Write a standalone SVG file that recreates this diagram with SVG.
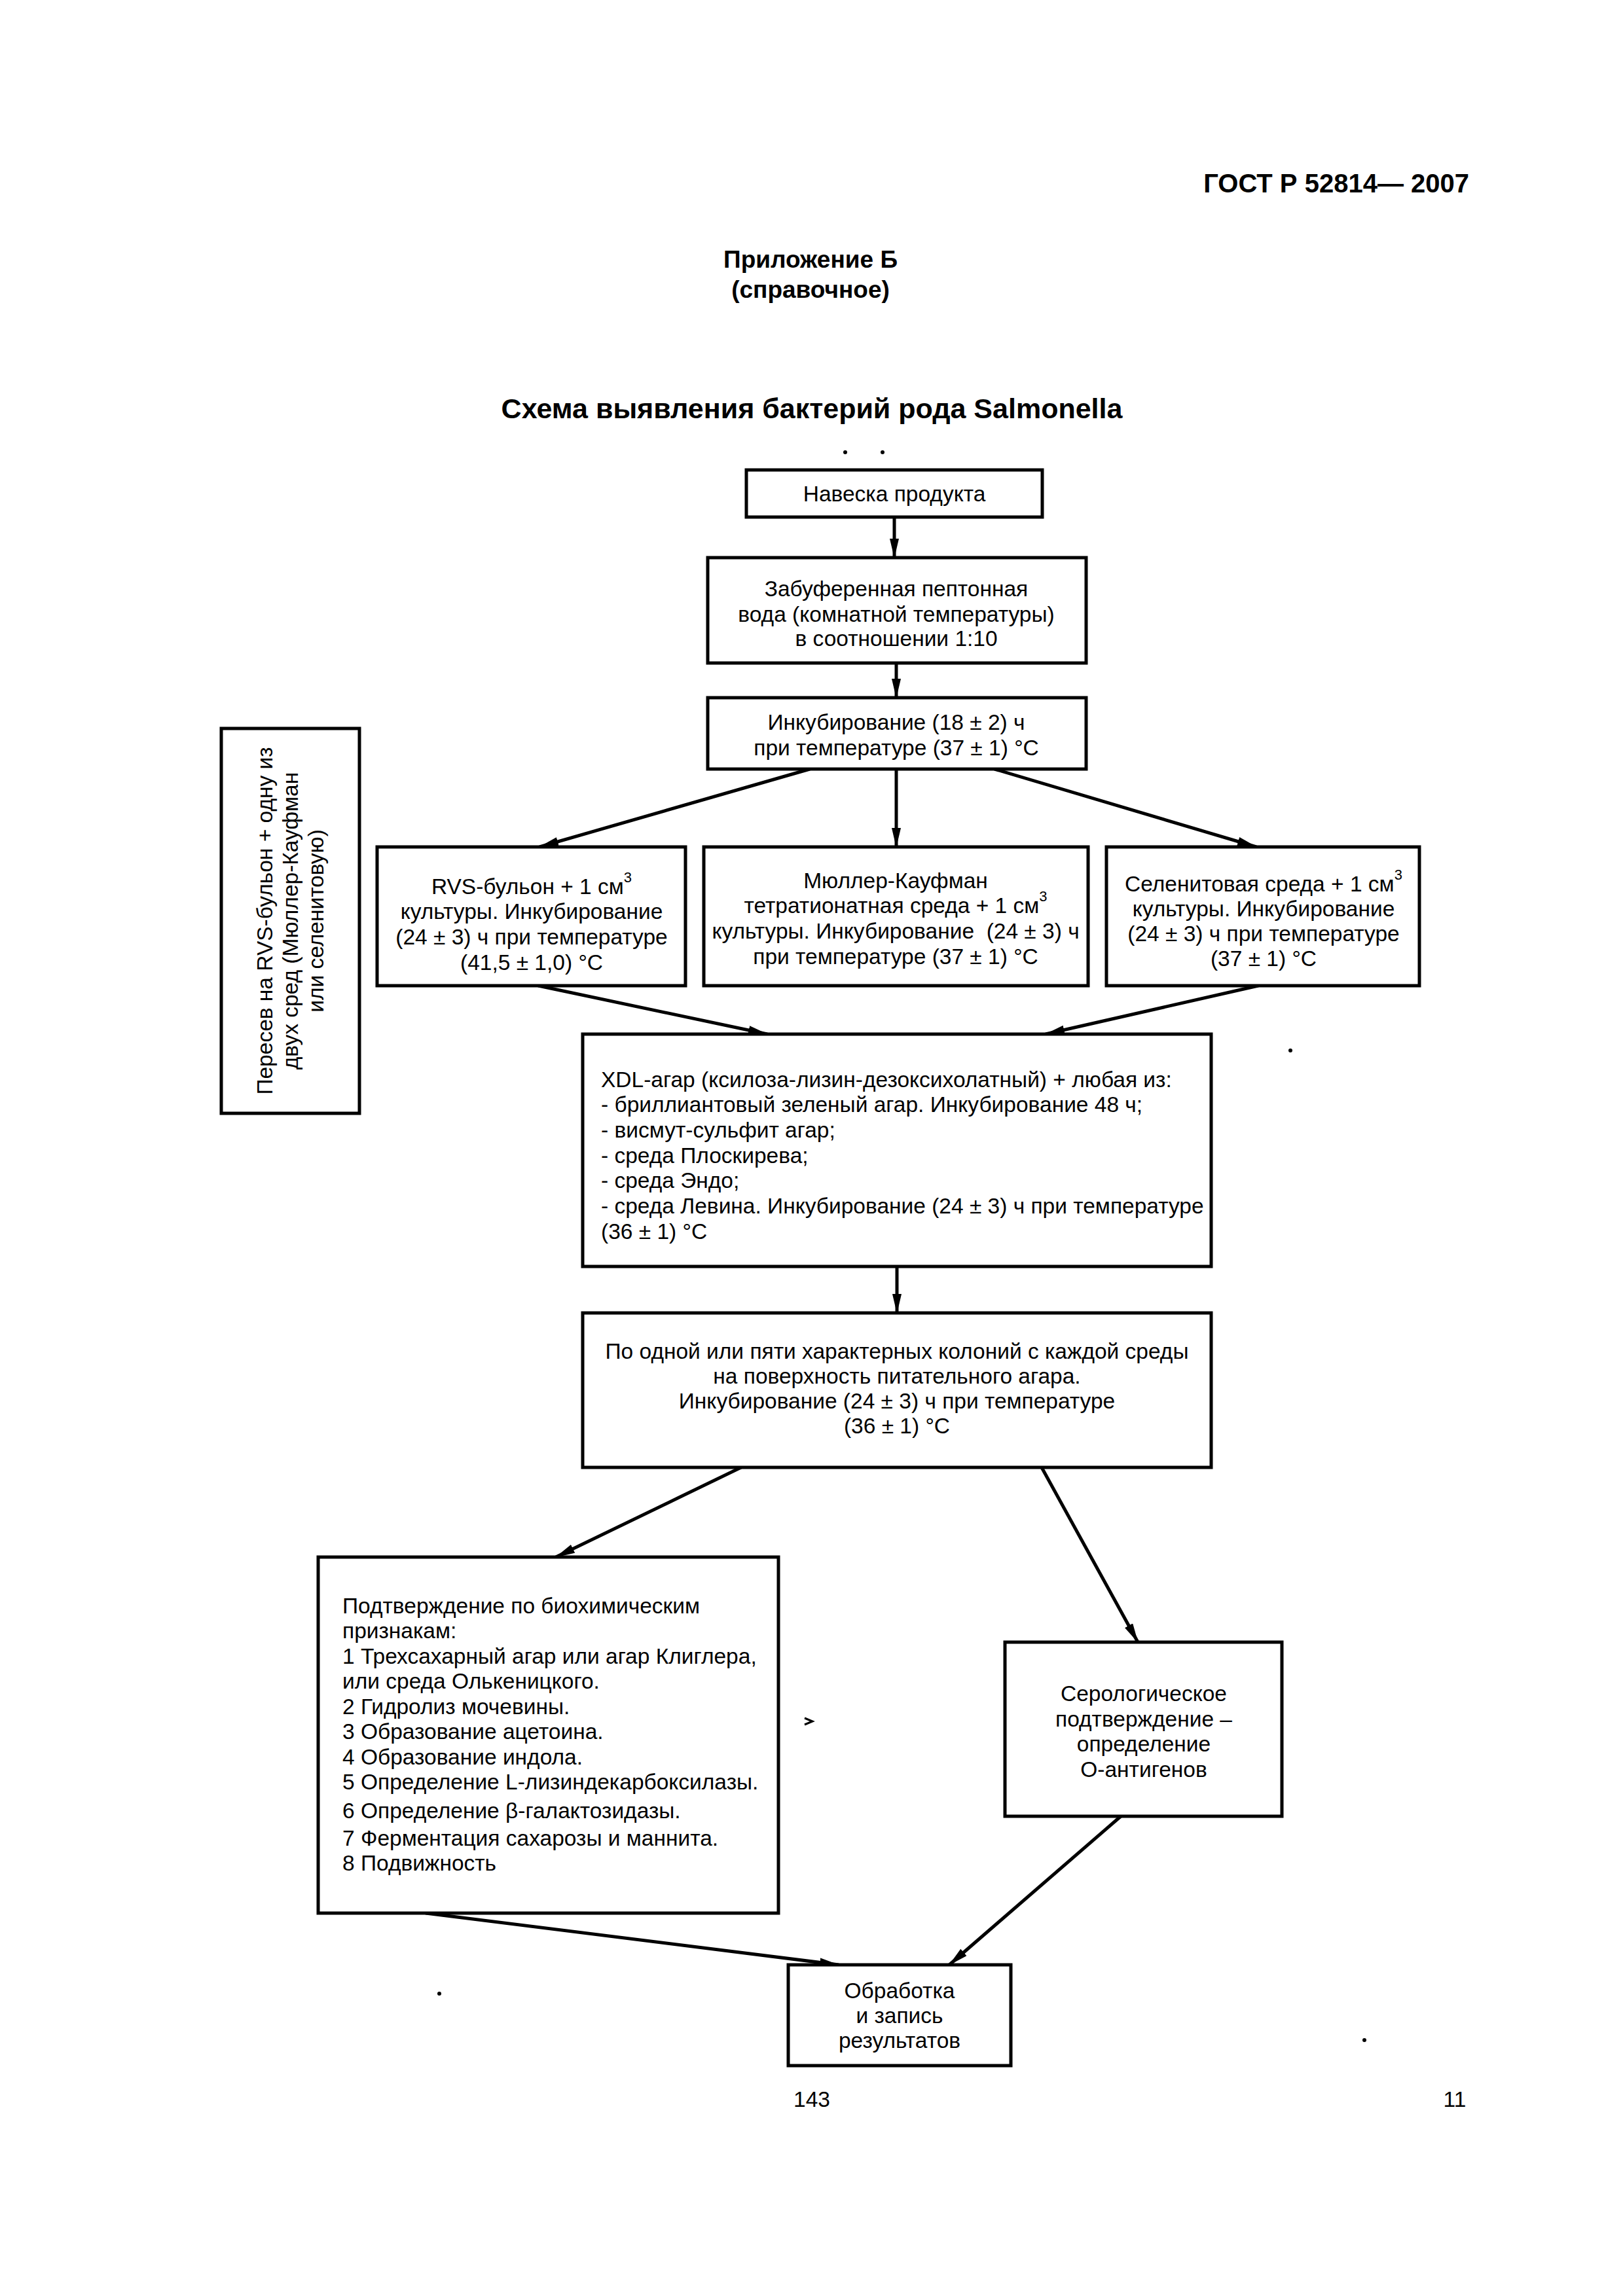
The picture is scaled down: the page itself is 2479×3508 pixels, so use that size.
<svg xmlns="http://www.w3.org/2000/svg" width="2479" height="3508" viewBox="0 0 2479 3508">
<style>
.bx{fill:#fff;stroke:#000;stroke-width:5}
.t{font-family:"Liberation Sans",Arial,sans-serif;font-size:33.5px;fill:#000;dominant-baseline:central}
.c{text-anchor:middle}
.h{font-family:"Liberation Sans",Arial,sans-serif;font-weight:bold;fill:#000}
.ln{stroke:#000;stroke-width:5;fill:none;marker-end:url(#ah)}
.sp{fill:#000}
</style>
<defs>
<marker id="ah" markerUnits="userSpaceOnUse" viewBox="0 0 30 14" refX="29" refY="7" markerWidth="30" markerHeight="14" orient="auto">
<path d="M0,0 L30,7 L0,14 z" fill="#000"/>
</marker>
</defs>
<rect width="2479" height="3508" fill="#fff"/>

<text class="h" x="2244" y="294" font-size="40" text-anchor="end">ГОСТ Р 52814— 2007</text>
<text class="h" x="1238" y="409" font-size="37" text-anchor="middle">Приложение Б</text>
<text class="h" x="1238" y="455" font-size="37" text-anchor="middle">(справочное)</text>
<text class="h" x="1240" y="639" font-size="43" text-anchor="middle">Схема выявления бактерий рода Salmonella</text>

<g id="specks">
<circle class="sp" cx="1291" cy="691" r="3"/>
<circle class="sp" cx="1348" cy="691" r="3"/>
<circle class="sp" cx="1971" cy="1605" r="3"/>
<circle class="sp" cx="671" cy="3046" r="3"/>
<circle class="sp" cx="2084" cy="3117" r="3"/>
<path d="M1229,2625 L1241,2630 L1229,2635" stroke="#000" stroke-width="3" fill="none"/>
</g>

<g id="connectors">
<line class="ln" x1="1366" y1="790" x2="1366" y2="852"/>
<line class="ln" x1="1369" y1="1013" x2="1369" y2="1066"/>
<line class="ln" x1="1237" y1="1175" x2="824" y2="1294"/>
<line class="ln" x1="1369" y1="1175" x2="1369" y2="1294"/>
<line class="ln" x1="1519" y1="1175" x2="1919" y2="1294"/>
<line class="ln" x1="822" y1="1506" x2="1172" y2="1580"/>
<line class="ln" x1="1922" y1="1506" x2="1597" y2="1580"/>
<line class="ln" x1="1370" y1="1935" x2="1370" y2="2006"/>
<line class="ln" x1="1132" y1="2242" x2="849" y2="2379"/>
<line class="ln" x1="1591" y1="2242" x2="1738" y2="2509"/>
<line class="ln" x1="650" y1="2923" x2="1281" y2="3002"/>
<line class="ln" x1="1712" y1="2775" x2="1450" y2="3002"/>
</g>

<g id="n1">
<rect class="bx" x="1140" y="718" width="452" height="72"/>
<text class="t c" x="1366" y="754">Навеска продукта</text>
</g>

<g id="n2">
<rect class="bx" x="1081" y="852" width="578" height="161"/>
<text class="t c" x="1369" y="899">Забуференная пептонная</text>
<text class="t c" x="1369" y="938">вода (комнатной температуры)</text>
<text class="t c" x="1369" y="975">в соотношении 1:10</text>
</g>

<g id="n3">
<rect class="bx" x="1081" y="1066" width="578" height="109"/>
<text class="t c" x="1369" y="1103">Инкубирование (18 ± 2) ч</text>
<text class="t c" x="1369" y="1142">при температуре (37 ± 1) °C</text>
</g>

<g id="n4">
<rect class="bx" x="338" y="1113" width="211" height="588"/>
<g transform="translate(443,1407) rotate(-90)">
<text class="t c" x="0" y="-39">Пересев на RVS-бульон + одну из</text>
<text class="t c" x="0" y="0">двух сред (Мюллер-Кауфман</text>
<text class="t c" x="0" y="39">или селенитовую)</text>
</g>
</g>

<g id="n5">
<rect class="bx" x="576" y="1294" width="471" height="212"/>
<text class="t c" x="812" y="1354">RVS-бульон + 1 см<tspan dy="-14" font-size="22">3</tspan></text>
<text class="t c" x="812" y="1392">культуры. Инкубирование</text>
<text class="t c" x="812" y="1431">(24 ± 3) ч при температуре</text>
<text class="t c" x="812" y="1470">(41,5 ± 1,0) °C</text>
</g>

<g id="n6">
<rect class="bx" x="1075" y="1294" width="587" height="212"/>
<text class="t c" x="1368" y="1345">Мюллер-Кауфман</text>
<text class="t c" x="1368" y="1383">тетратионатная среда + 1 см<tspan dy="-14" font-size="22">3</tspan></text>
<text class="t c" x="1368" y="1422">культуры. Инкубирование&#160; (24 ± 3) ч</text>
<text class="t c" x="1368" y="1461">при температуре (37 ± 1) °C</text>
</g>

<g id="n7">
<rect class="bx" x="1690" y="1294" width="478" height="212"/>
<text class="t c" x="1930" y="1350">Селенитовая среда + 1 см<tspan dy="-14" font-size="22">3</tspan></text>
<text class="t c" x="1930" y="1388">культуры. Инкубирование</text>
<text class="t c" x="1930" y="1426">(24 ± 3) ч при температуре</text>
<text class="t c" x="1930" y="1464">(37 ± 1) °C</text>
</g>

<g id="n8">
<rect class="bx" x="890" y="1580" width="960" height="355"/>
<text class="t" x="918" y="1649">XDL-агар (ксилоза-лизин-дезоксихолатный) + любая из:</text>
<text class="t" x="918" y="1687">- бриллиантовый зеленый агар. Инкубирование 48 ч;</text>
<text class="t" x="918" y="1726">- висмут-сульфит агар;</text>
<text class="t" x="918" y="1765">- среда Плоскирева;</text>
<text class="t" x="918" y="1803">- среда Эндо;</text>
<text class="t" x="918" y="1842">- среда Левина. Инкубирование (24 ± 3) ч при температуре</text>
<text class="t" x="918" y="1881">(36 ± 1) °C</text>
</g>

<g id="n9">
<rect class="bx" x="890" y="2006" width="960" height="236"/>
<text class="t c" x="1370" y="2064">По одной или пяти характерных колоний с каждой среды</text>
<text class="t c" x="1370" y="2102">на поверхность питательного агара.</text>
<text class="t c" x="1370" y="2140">Инкубирование (24 ± 3) ч при температуре</text>
<text class="t c" x="1370" y="2178">(36 ± 1) °C</text>
</g>

<g id="n10">
<rect class="bx" x="486" y="2379" width="703" height="544"/>
<text class="t" x="523" y="2453">Подтверждение по биохимическим</text>
<text class="t" x="523" y="2491">признакам:</text>
<text class="t" x="523" y="2530">1 Трехсахарный агар или агар Клиглера,</text>
<text class="t" x="523" y="2568">или среда Олькеницкого.</text>
<text class="t" x="523" y="2607">2 Гидролиз мочевины.</text>
<text class="t" x="523" y="2645">3 Образование ацетоина.</text>
<text class="t" x="523" y="2684">4 Образование индола.</text>
<text class="t" x="523" y="2722">5 Определение L-лизиндекарбоксилазы.</text>
<text class="t" x="523" y="2766">6 Определение β-галактозидазы.</text>
<text class="t" x="523" y="2808">7 Ферментация сахарозы и маннита.</text>
<text class="t" x="523" y="2846">8 Подвижность</text>
</g>

<g id="n11">
<rect class="bx" x="1535" y="2509" width="423" height="266"/>
<text class="t c" x="1747" y="2587">Серологическое</text>
<text class="t c" x="1747" y="2626">подтверждение –</text>
<text class="t c" x="1747" y="2664">определение</text>
<text class="t c" x="1747" y="2703">О-антигенов</text>
</g>

<g id="n12">
<rect class="bx" x="1204" y="3002" width="340" height="154"/>
<text class="t c" x="1374" y="3041">Обработка</text>
<text class="t c" x="1374" y="3079">и запись</text>
<text class="t c" x="1374" y="3117">результатов</text>
</g>

<text class="t c" x="1240" y="3207">143</text>
<text class="t c" x="2222" y="3207">11</text>
</svg>
